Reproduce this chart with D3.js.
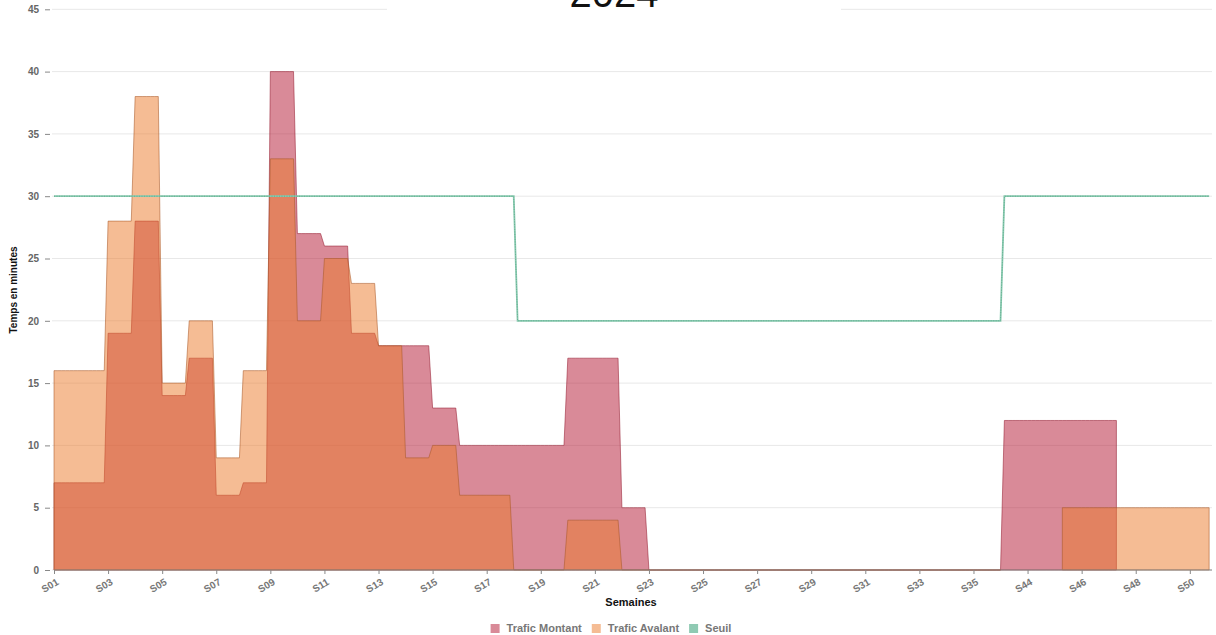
<!DOCTYPE html>
<html>
<head>
<meta charset="utf-8">
<script src="https://cdnjs.cloudflare.com/ajax/libs/d3/7.8.5/d3.min.js"></script>
<style>
    body { margin: 0; background: #fff; }
    text { font-family: "Liberation Sans", Arial, sans-serif; }
</style>
</head>
<body>
<svg id="chart" width="1216" height="635"></svg>
<script>
'use strict';

// Chart values.
var title = '2024';
var weeks = ['S01', 'S02', 'S03', 'S04', 'S05', 'S06', 'S07', 'S08', 'S09', 'S10',
    'S11', 'S12', 'S13', 'S14', 'S15', 'S16', 'S17', 'S18', 'S19', 'S20',
    'S21', 'S22', 'S23', 'S24', 'S25', 'S26', 'S27', 'S28', 'S29', 'S30',
    'S31', 'S32', 'S33', 'S34', 'S35', 'S43', 'S44', 'S45', 'S46', 'S47',
    'S48', 'S49', 'S50'];
var yTicks = [0, 5, 10, 15, 20, 25, 30, 35, 40, 45];
var daysPerWeek = 7;
var dayCount = 300;

// Daily series, stored as [day, value] change points:
// the value holds until the next change, null = no data.
var montant = [[0, 7], [14, 19], [21, 28], [28, 14], [35, 17], [42, 6], [49, 7],
    [56, 40], [63, 27], [70, 26], [77, 19], [84, 18], [98, 13], [105, 10],
    [133, 17], [147, 5], [154, 0], [246, 12], [276, null]];
var avalant = [[0, 16], [14, 28], [21, 38], [28, 15], [35, 20], [42, 9], [49, 16],
    [56, 33], [63, 20], [70, 25], [77, 23], [84, 18], [91, 9], [98, 10], [105, 6],
    [119, 0], [133, 4], [147, 0], [246, null], [261, 5]];
var seuil = [[0, 30], [120, 20], [246, 30]];

var seriesLabels = ['Trafic Montant', 'Trafic Avalant', 'Seuil'];

/**
 * Turn a list of change points into one datum per day.
 */
function expand(changes) {
    var out = [];
    var j = 0;
    var value = null;
    for (var day = 0; day < dayCount; day++) {
        while (j < changes.length && changes[j][0] <= day) {
            value = changes[j][1];
            j++;
        }
        out.push({day: day, value: value});
    }
    return out;
}

var svg = d3.select('#chart');

var x = d3.scaleLinear()
    .domain([0, dayCount])
    .range([54, 1213]);
var y = d3.scaleLinear()
    .domain([0, 45])
    .range([570, 9.3]);

// Horizontal grid.
svg.append('g')
    .selectAll('line')
    .data(yTicks)
    .enter().append('line')
    .attr('x1', 52)
    .attr('x2', x(dayCount) - 1)
    .attr('y1', function(d) {return y(d);})
    .attr('y2', function(d) {return y(d);})
    .attr('stroke', '#e8e8e8')
    .attr('stroke-width', 1);

// Title, with a white box behind it that hides the top grid line.
svg.append('rect')
    .attr('x', 387)
    .attr('y', 0)
    .attr('width', 454)
    .attr('height', 12)
    .attr('fill', '#fff');
svg.append('text')
    .attr('x', 614)
    .attr('y', 7)
    .attr('text-anchor', 'middle')
    .style('font-size', '40px')
    .style('fill', '#111')
    .text(title);

// Y axis: ticks and labels, no domain line.
var yAxis = svg.append('g')
    .attr('transform', 'translate(50,0)')
    .call(d3.axisLeft(y).tickValues(yTicks).tickSize(5).tickPadding(6));
yAxis.select('.domain').remove();
yAxis.selectAll('.tick line').attr('stroke', '#888');
yAxis.selectAll('.tick text')
    .style('font-size', '10px')
    .style('font-weight', 'bold')
    .style('fill', '#666');

// Areas: montant first, avalant drawn over it.
var area = d3.area()
    .defined(function(d) {return d.value !== null;})
    .x(function(d) {return x(d.day);})
    .y0(y(0))
    .y1(function(d) {return y(d.value);});

svg.append('path')
    .datum(expand(montant))
    .attr('d', area)
    .attr('fill', 'rgb(179,21,49)')
    .attr('fill-opacity', 0.5)
    .attr('stroke', 'rgb(150,30,50)')
    .attr('stroke-opacity', 0.55)
    .attr('stroke-width', 1);

svg.append('path')
    .datum(expand(avalant))
    .attr('d', area)
    .attr('fill', 'rgb(235,121,41)')
    .attr('fill-opacity', 0.5)
    .attr('stroke', 'rgb(170,90,40)')
    .attr('stroke-opacity', 0.55)
    .attr('stroke-width', 1);

// X axis, one labelled tick every two weeks.
var xTicks = d3.range(0, dayCount, daysPerWeek * 2);
var xAxis = svg.append('g')
    .attr('transform', 'translate(0,' + y(0) + ')')
    .call(d3.axisBottom(x)
        .tickValues(xTicks)
        .tickSize(4)
        .tickSizeOuter(0)
        .tickFormat(function(d) {return weeks[Math.floor(d / daysPerWeek)];}));
xAxis.select('.domain')
    .attr('stroke', '#888')
    .attr('d', 'M' + x(0) + ',0H' + (x(dayCount) - 1));
xAxis.selectAll('.tick line').attr('stroke', '#888');
xAxis.selectAll('.tick text')
    .attr('y', 0)
    .attr('dy', 0)
    .attr('transform', 'translate(5,14) rotate(-30)')
    .attr('text-anchor', 'end')
    .style('font-size', '10px')
    .style('font-weight', 'bold')
    .style('fill', '#777');

// Seuil line, with a faint dotted core like the reference.
var line = d3.line()
    .x(function(d) {return x(d.day);})
    .y(function(d) {return y(d.value);});
var seuilData = expand(seuil);
svg.append('path')
    .datum(seuilData)
    .attr('d', line)
    .attr('fill', 'none')
    .attr('stroke', '#86c9ae')
    .attr('stroke-width', 1.8);
svg.append('path')
    .datum(seuilData)
    .attr('d', line)
    .attr('fill', 'none')
    .attr('stroke', '#3f8f72')
    .attr('stroke-opacity', 0.6)
    .attr('stroke-width', 0.8)
    .attr('stroke-dasharray', '1,1.5');

// Axis titles.
svg.append('text')
    .attr('transform', 'translate(17,290) rotate(-90)')
    .attr('text-anchor', 'middle')
    .style('font-size', '10px')
    .style('font-weight', 'bold')
    .style('fill', '#111')
    .text('Temps en minutes');
svg.append('text')
    .attr('x', 631)
    .attr('y', 606)
    .attr('text-anchor', 'middle')
    .style('font-size', '11px')
    .style('font-weight', 'bold')
    .style('fill', '#111')
    .text('Semaines');

// Legend, centred under the chart.
var legendColors = ['rgba(179,21,49,0.5)', 'rgba(235,121,41,0.5)', '#8fcab3'];
var legend = svg.append('g');
var cursor = 0;
seriesLabels.forEach(function(label, i) {
    var item = legend.append('g')
        .attr('transform', 'translate(' + cursor + ',0)');
    item.append('rect')
        .attr('x', 0)
        .attr('y', -8)
        .attr('width', 9)
        .attr('height', 9)
        .attr('fill', legendColors[i]);
    var t = item.append('text')
        .attr('x', 16)
        .attr('y', 0)
        .style('font-size', '11px')
        .style('font-weight', 'bold')
        .style('fill', '#777')
        .text(label);
    cursor += 16 + t.node().getComputedTextLength() + 10;
});
legend.attr('transform', 'translate(' + (611 - (cursor - 10) / 2) + ',632)');
</script>
</body>
</html>
